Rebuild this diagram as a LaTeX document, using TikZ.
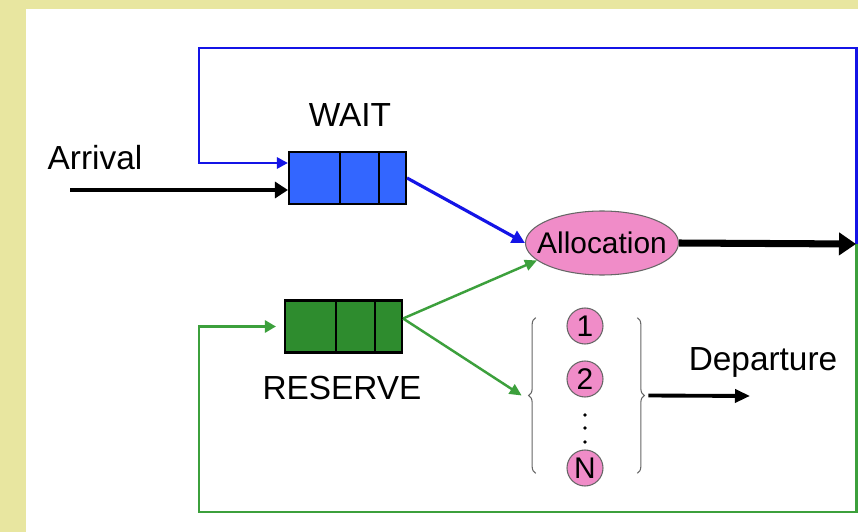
\documentclass[tikz,border=0pt]{standalone}
\usepackage{fontspec}
\setmainfont{Liberation Sans}
\usetikzlibrary{arrows.meta,shapes.geometric,decorations.pathreplacing,positioning}

\definecolor{bgyellow}{RGB}{232,230,160}
\definecolor{blueline}{RGB}{20,20,230}
\definecolor{waitblue}{RGB}{51,102,255}
\definecolor{resgreen}{RGB}{46,140,46}
\definecolor{greenline}{RGB}{60,160,60}
\definecolor{pinkfill}{RGB}{240,140,200}

\tikzset{
  queue/.style={draw=black, line width=1.2pt, minimum width=2.34cm, minimum height=1.04cm, inner sep=0pt},
  server/.style={circle, draw=black!60, line width=0.6pt, fill=pinkfill, minimum size=0.72cm, inner sep=0pt, font=\fontsize{17}{19}\selectfont},
  lbl/.style={font=\fontsize{19}{22}\selectfont},
  curly/.style={draw=black!60, line width=0.6pt, decorate, decoration={brace, amplitude=1.4mm}},
}

\begin{document}
\begin{tikzpicture}[x=0.2mm,y=-0.2mm]
    % Frame
    \useasboundingbox (0,0) rectangle (858,532);
    \fill[bgyellow] (0,0) rectangle (858,532);
    \fill[white] (26,9) rectangle (858,532);

    % Queues
    \node [queue, fill=waitblue] (wait) at (347.5,178) {};
    \node [queue, fill=resgreen] (reserve) at (343.5,326.5) {};
    \foreach \q in {wait,reserve}
        \foreach \d in {52,91}
            \draw [line width=1.2pt] ([xshift=\d*0.2mm]\q.north west) -- ([xshift=\d*0.2mm]\q.south west);
    \node [lbl] (waitlbl) at (350,115) {WAIT};
    \node [lbl] (reslbl) at (342,388) {RESERVE};
    \node [lbl] (arrlbl) at (95,158) {Arrival};

    % Allocation
    \node [ellipse, draw=black!60, line width=0.6pt, fill=pinkfill, minimum width=3.06cm, minimum height=1.28cm, inner sep=0pt] (alloc) at (602,243) {};
    \node [font=\fontsize{17}{20}\selectfont] (alloclbl) at (alloc) {Allocation};

    % Servers between braces
    \node [server] (s1) at (585,326) {1};
    \node [server] (s2) at (585,379) {2};
    \node [server] (sN) at (585,468) {N};
    \foreach \y in {415,428,442}
        \fill (585,\y) circle (1pt);
    \node [minimum width=2.02cm, minimum height=3.1cm, inner sep=0pt] (pool) at (586.5,395.5) {};
    \draw [curly] (pool.south west) -- (pool.north west);
    \draw [curly] (pool.north east) -- (pool.south east);
    \node [lbl] (deplbl) at (763,362) {Departure};

    % Connectors
    \coordinate (arrin) at (70,190);
    \coordinate (exit) at (856,244);
    \coordinate (loopTL) at (199,48);
    \coordinate (loopBL) at (199,512);
    \coordinate (depout) at (750,396);

    \draw [line width=2.2pt, -{Triangle[length=2.6mm,width=3.2mm]}] (arrin) -- (arrin -| wait.west);
    \draw [blueline, line width=1.7pt, -{Triangle[length=2.2mm,width=2.2mm]}] (exit) |- (loopTL) |- ([yshift=3mm]wait.west);
    \draw [greenline, line width=1.7pt, shorten >=1.6mm, -{Triangle[length=2.2mm,width=2.4mm]}] (exit) |- (loopBL) |- (reserve.west);
    \draw [line width=4pt, -{Triangle[length=3.4mm,width=4.4mm]}] (alloc.east) -- (exit);
    \draw [blueline, line width=1.8pt, -{Triangle[length=2.6mm,width=2.6mm]}] (wait.east) -- (alloc.west);
    \draw [greenline, line width=1.4pt, -{Triangle[length=2.4mm,width=2.2mm]}] ([yshift=1.6mm]reserve.east) -- (alloc.195);
    \draw [greenline, line width=1.4pt, -{Triangle[length=2.4mm,width=2.2mm]}] ([yshift=1.6mm]reserve.east) -- ([xshift=-2.8mm]pool.west);
    \draw [line width=2.2pt, -{Triangle[length=3mm,width=2.6mm]}] ([xshift=2.2mm]pool.east) -- (depout);

\end{tikzpicture}
\end{document}
